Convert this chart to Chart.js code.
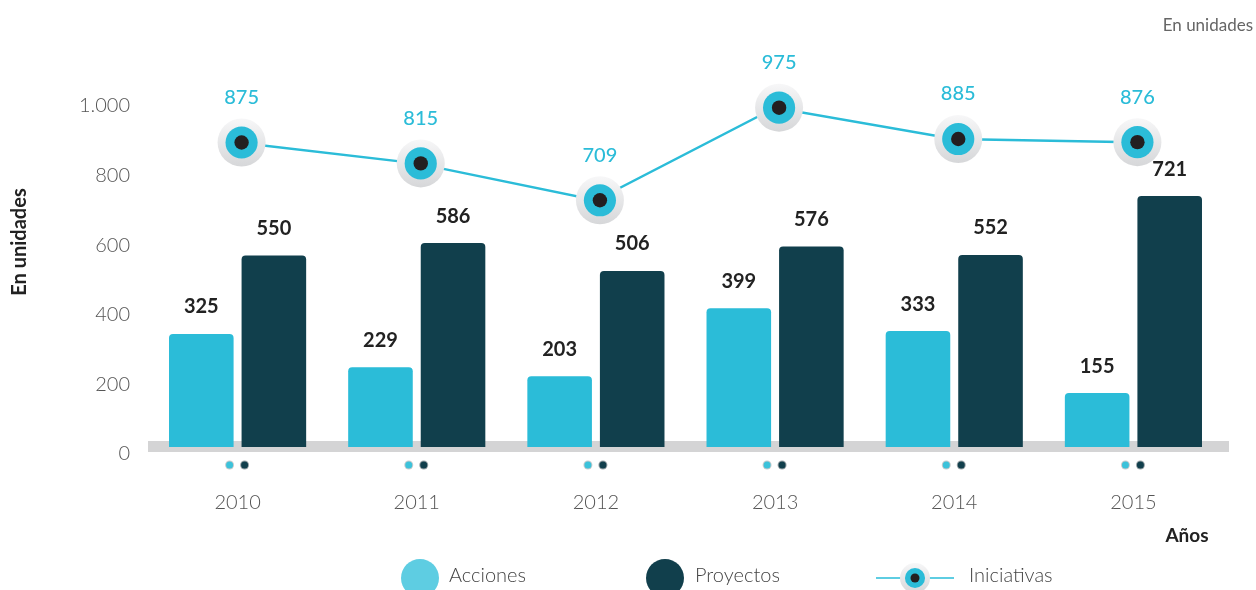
<!DOCTYPE html>
<html>
<head>
<meta charset="utf-8">
<script src="https://cdn.jsdelivr.net/npm/chart.js@4/dist/chart.umd.min.js"></script>
<style>
  html, body { margin: 0; padding: 0; background: #fff; }
  #wrap { width: 1256px; height: 590px; position: relative; }
</style>
</head>
<body>
<div id="wrap"><canvas id="chart"></canvas></div>
<script>
// Data
const years = ['2010', '2011', '2012', '2013', '2014', '2015'];
const acciones = [325, 229, 203, 399, 333, 155];
const proyectos = [550, 586, 506, 576, 552, 721];
const iniciativas = [875, 815, 709, 975, 885, 876];
const yTicks = [0, 200, 400, 600, 800, 1000];

const CYAN = '#2bbcd8';
const DARK = '#113f4c';
const FONT = 'Lato, "Noto Sans", sans-serif';

function fmt(v) {
    return String(v).replace(/\B(?=(\d{3})+(?!\d))/g, '.');
}

function drawMarker(ctx, x, y, r) {
    const g = ctx.createLinearGradient(0, y - r, 0, y + r);
    g.addColorStop(0, '#f7f7f8');
    g.addColorStop(1, '#d6d7d9');
    ctx.beginPath();
    ctx.arc(x, y, r, 0, Math.PI * 2);
    ctx.fillStyle = g;
    ctx.fill();
    ctx.beginPath();
    ctx.arc(x, y, r * 0.67, 0, Math.PI * 2);
    ctx.fillStyle = CYAN;
    ctx.fill();
    ctx.beginPath();
    ctx.arc(x, y, r * 0.3, 0, Math.PI * 2);
    ctx.fillStyle = '#231f20';
    ctx.fill();
}

const decorPlugin = {
    id: 'decor',
    beforeDatasetsDraw(chart) {
        const { ctx, chartArea } = chart;
        const y0 = chart.scales.y.getPixelForValue(0);
        ctx.save();
        ctx.fillStyle = '#d4d4d5';
        ctx.fillRect(chartArea.left, y0 - 6, chartArea.right - chartArea.left + 6, 11);
        ctx.restore();
    },
    afterDatasetsDraw(chart) {
        const { ctx } = chart;
        const xs = chart.scales.x;
        const y0 = chart.scales.y.getPixelForValue(0);
        ctx.save();

        // small dots under each group
        years.forEach((_, i) => {
            const cx = xs.getPixelForValue(i);
            ctx.beginPath();
            ctx.arc(cx - 8, y0 + 18, 4.5, 0, Math.PI * 2);
            ctx.fillStyle = '#c9cbcd';
            ctx.fill();
            ctx.beginPath();
            ctx.arc(cx - 8, y0 + 18, 3.5, 0, Math.PI * 2);
            ctx.fillStyle = '#3cc2da';
            ctx.fill();
            ctx.beginPath();
            ctx.arc(cx + 7, y0 + 18, 4.5, 0, Math.PI * 2);
            ctx.fillStyle = '#9aa3a7';
            ctx.fill();
            ctx.beginPath();
            ctx.arc(cx + 7, y0 + 18, 3.5, 0, Math.PI * 2);
            ctx.fillStyle = DARK;
            ctx.fill();
        });

        // bar value labels
        ctx.font = 'bold 20px ' + FONT;
        ctx.fillStyle = '#222';
        ctx.textAlign = 'center';
        ctx.textBaseline = 'middle';
        [0, 1].forEach(d => {
            const meta = chart.getDatasetMeta(d);
            meta.data.forEach((bar, i) => {
                ctx.fillText(chart.data.datasets[d].data[i], bar.x, bar.y - 27);
            });
        });

        // line markers and labels
        const lineMeta = chart.getDatasetMeta(2);
        lineMeta.data.forEach((pt, i) => {
            drawMarker(ctx, pt.x + 4, pt.y, 24);
            ctx.font = '500 20px ' + FONT;
            ctx.fillStyle = CYAN;
            ctx.fillText(iniciativas[i], pt.x + 4, pt.y - 45);
        });

        // axis captions
        ctx.font = 'bold 19px ' + FONT;
        ctx.fillStyle = '#222';
        ctx.fillText('Años', 1187, 536);

        ctx.save();
        ctx.translate(20, 242);
        ctx.rotate(-Math.PI / 2);
        ctx.font = 'bold 20px ' + FONT;
        ctx.fillText('En unidades', 0, 0);
        ctx.restore();

        ctx.font = '17px ' + FONT;
        ctx.fillStyle = '#666';
        ctx.textAlign = 'right';
        ctx.fillText('En unidades', 1253, 26);

        // legend
        const ly = 578;
        ctx.textAlign = 'left';
        ctx.font = '300 20px ' + FONT;
        ctx.beginPath();
        ctx.arc(420, ly, 19, 0, Math.PI * 2);
        ctx.fillStyle = '#5ecde2';
        ctx.fill();
        ctx.fillStyle = '#444';
        ctx.fillText('Acciones', 449, 576);

        ctx.beginPath();
        ctx.arc(665, ly, 19, 0, Math.PI * 2);
        ctx.fillStyle = DARK;
        ctx.fill();
        ctx.fillStyle = '#444';
        ctx.fillText('Proyectos', 695, 576);

        ctx.strokeStyle = '#5ecde2';
        ctx.lineWidth = 2;
        ctx.beginPath();
        ctx.moveTo(876, ly);
        ctx.lineTo(954, ly);
        ctx.stroke();
        drawMarker(ctx, 915, ly, 15);
        ctx.fillStyle = '#444';
        ctx.fillText('Iniciativas', 969, 576);

        ctx.restore();
    }
};

new Chart(document.getElementById('chart'), {
    data: {
        labels: years,
        datasets: [
            {
                type: 'bar',
                label: 'Acciones',
                data: acciones,
                backgroundColor: CYAN,
                borderRadius: { topLeft: 4, topRight: 4 },
                borderSkipped: 'start',
                categoryPercentage: 0.81,
                barPercentage: 0.89,
                order: 2
            },
            {
                type: 'bar',
                label: 'Proyectos',
                data: proyectos,
                backgroundColor: DARK,
                borderRadius: { topLeft: 4, topRight: 4 },
                borderSkipped: 'start',
                categoryPercentage: 0.81,
                barPercentage: 0.89,
                order: 2
            },
            {
                type: 'line',
                label: 'Iniciativas',
                data: iniciativas,
                borderColor: CYAN,
                borderWidth: 2.5,
                pointRadius: 0,
                tension: 0,
                order: 1
            }
        ]
    },
    options: {
        responsive: true,
        maintainAspectRatio: false,
        animation: false,
        layout: { padding: { top: 99, right: 33, left: 0, bottom: 0 } },
        plugins: {
            legend: { display: false },
            tooltip: { enabled: false }
        },
        scales: {
            x: {
                offset: true,
                grid: { display: false, drawTicks: false },
                border: { display: false },
                ticks: {
                    padding: 44,
                    color: '#555',
                    font: { family: FONT, size: 20, weight: '300' }
                },
                afterFit(scale) { scale.height = 143; }
            },
            y: {
                min: 0,
                max: 1000,
                afterBuildTicks(scale) {
                    scale.ticks = yTicks.map(v => ({ value: v }));
                },
                grid: { display: false, drawTicks: false },
                border: { display: false },
                ticks: {
                    padding: 18,
                    labelOffset: 7,
                    color: '#555',
                    font: { family: FONT, size: 20, weight: '300' },
                    callback: v => fmt(v)
                },
                afterFit(scale) { scale.width = 148; }
            }
        }
    },
    plugins: [decorPlugin]
});
</script>
</body>
</html>
